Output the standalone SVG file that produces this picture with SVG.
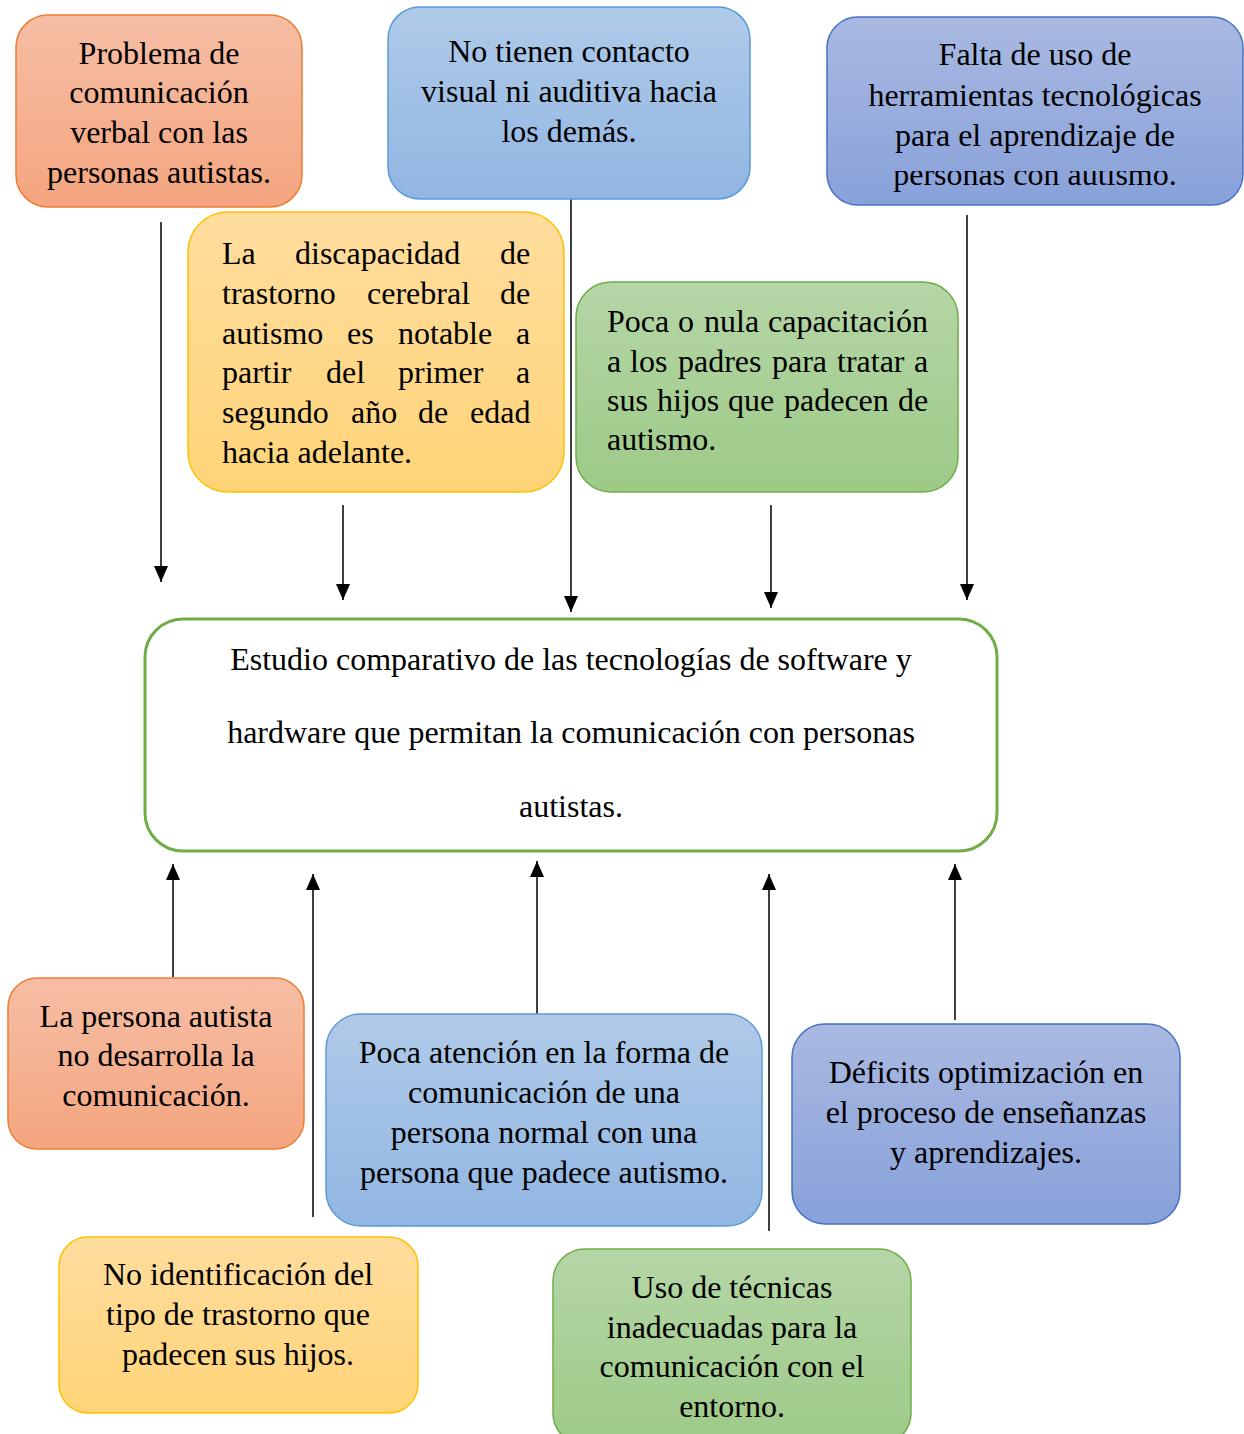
<svg xmlns="http://www.w3.org/2000/svg" width="1244" height="1434" viewBox="0 0 1244 1434">
  <style>
    .t { font-family: "Liberation Serif", "Times New Roman", serif; font-size: 32px; fill: #000; }
    .c { text-anchor: middle; }
    .box { stroke-width: 1.5; }
    .orange { fill: url(#gOrange); stroke: #ED7D31; }
    .blue { fill: url(#gBlue); stroke: #5B9BD5; }
    .indigo { fill: url(#gIndigo); stroke: #4472C4; }
    .yellow { fill: url(#gYellow); stroke: #FFC000; }
    .green { fill: url(#gGreen); stroke: #70AD47; }
    .link { stroke: #000; stroke-width: 1.5; fill: none; marker-end: url(#arrow); }
  </style>
  <defs>
    <linearGradient id="gOrange" x1="0" y1="0" x2="0" y2="1">
      <stop offset="0" stop-color="#F6BEA5"/>
      <stop offset="1" stop-color="#F4A57F"/>
    </linearGradient>
    <linearGradient id="gBlue" x1="0" y1="0" x2="0" y2="1">
      <stop offset="0" stop-color="#B0CAE9"/>
      <stop offset="1" stop-color="#91B6E2"/>
    </linearGradient>
    <linearGradient id="gIndigo" x1="0" y1="0" x2="0" y2="1">
      <stop offset="0" stop-color="#A9B9E1"/>
      <stop offset="1" stop-color="#88A1DA"/>
    </linearGradient>
    <linearGradient id="gYellow" x1="0" y1="0" x2="0" y2="1">
      <stop offset="0" stop-color="#FFDD9E"/>
      <stop offset="1" stop-color="#FFD478"/>
    </linearGradient>
    <linearGradient id="gGreen" x1="0" y1="0" x2="0" y2="1">
      <stop offset="0" stop-color="#B5D6A7"/>
      <stop offset="1" stop-color="#9DCA87"/>
    </linearGradient>
    <marker id="arrow" markerUnits="userSpaceOnUse" markerWidth="16" markerHeight="14" refX="16" refY="7" orient="auto">
      <path d="M0,0 L16,7 L0,14 z" fill="#000"/>
    </marker>
    <!-- the last line of the top-right box is cut along its top edge -->
    <clipPath id="lastLineClip">
      <rect x="827" y="171" width="417" height="40"/>
    </clipPath>
  </defs>

  <!-- connectors -->
  <g id="connectors">
    <line class="link" x1="161" y1="222" x2="161" y2="582"/>
    <line class="link" x1="343" y1="505" x2="343" y2="600"/>
    <line class="link" x1="571" y1="199" x2="571" y2="612"/>
    <line class="link" x1="771" y1="505" x2="771" y2="608"/>
    <line class="link" x1="967" y1="215" x2="967" y2="600"/>
    <line class="link" x1="173" y1="977" x2="173" y2="864"/>
    <line class="link" x1="313" y1="1217" x2="313" y2="874"/>
    <line class="link" x1="537" y1="1018" x2="537" y2="861"/>
    <line class="link" x1="769" y1="1231" x2="769" y2="874"/>
    <line class="link" x1="955" y1="1020" x2="955" y2="864"/>
  </g>

  <!-- top row -->
  <g id="problema-comunicacion">
    <rect class="box orange" x="16" y="15" width="286" height="192" rx="32"/>
    <text class="t c" x="159" y="64">Problema de</text>
    <text class="t c" x="159" y="103">comunicación</text>
    <text class="t c" x="159" y="143">verbal con las</text>
    <text class="t c" x="159" y="183">personas autistas.</text>
  </g>

  <g id="contacto-visual">
    <rect class="box blue" x="388" y="7" width="362" height="192" rx="32"/>
    <text class="t c" x="569" y="62">No tienen contacto</text>
    <text class="t c" x="569" y="102">visual ni auditiva hacia</text>
    <text class="t c" x="569" y="142">los demás.</text>
  </g>

  <g id="herramientas">
    <rect class="box indigo" x="827" y="17" width="416" height="188" rx="31"/>
    <text class="t c" x="1035" y="65">Falta de uso de</text>
    <text class="t c" x="1035" y="106">herramientas tecnológicas</text>
    <text class="t c" x="1035" y="146">para el aprendizaje de</text>
    <text class="t c" x="1035" y="185" clip-path="url(#lastLineClip)">personas con autismo.</text>
  </g>

  <g id="discapacidad">
    <rect class="box yellow" x="188" y="212" width="376" height="280" rx="40"/>
    <text class="t"><tspan x="222" y="264">La</tspan><tspan x="295" y="264">discapacidad</tspan><tspan x="500" y="264">de</tspan></text>
    <text class="t"><tspan x="222" y="304">trastorno</tspan><tspan x="367" y="304">cerebral</tspan><tspan x="500" y="304">de</tspan></text>
    <text class="t"><tspan x="222" y="344">autismo</tspan><tspan x="347" y="344">es</tspan><tspan x="398" y="344">notable</tspan><tspan x="516" y="344">a</tspan></text>
    <text class="t"><tspan x="222" y="383">partir</tspan><tspan x="326" y="383">del</tspan><tspan x="398" y="383">primer</tspan><tspan x="516" y="383">a</tspan></text>
    <text class="t"><tspan x="222" y="423">segundo</tspan><tspan x="351" y="423">año</tspan><tspan x="418" y="423">de</tspan><tspan x="470" y="423">edad</tspan></text>
    <text class="t" x="222" y="463">hacia adelante.</text>
  </g>

  <g id="capacitacion-padres">
    <rect class="box green" x="576" y="282" width="382" height="210" rx="35"/>
    <text class="t"><tspan x="607" y="332">Poca</tspan><tspan x="678" y="332">o</tspan><tspan x="704" y="332">nula</tspan><tspan x="768" y="332">capacitación</tspan></text>
    <text class="t"><tspan x="607" y="372">a</tspan><tspan x="630" y="372">los</tspan><tspan x="678" y="372">padres</tspan><tspan x="772" y="372">para</tspan><tspan x="837" y="372">tratar</tspan><tspan x="914" y="372">a</tspan></text>
    <text class="t"><tspan x="607" y="411">sus</tspan><tspan x="657" y="411">hijos</tspan><tspan x="728" y="411">que</tspan><tspan x="784" y="411">padecen</tspan><tspan x="898" y="411">de</tspan></text>
    <text class="t" x="607" y="450">autismo.</text>
  </g>

  <!-- central topic -->
  <g id="estudio-comparativo">
    <rect x="145" y="619" width="852" height="232" rx="38" fill="#FFFFFF" stroke="#70AD47" stroke-width="3"/>
    <text class="t c" x="571" y="670">Estudio comparativo de las tecnologías de software y</text>
    <text class="t c" x="571" y="743">hardware que permitan la comunicación con personas</text>
    <text class="t c" x="571" y="817">autistas.</text>
  </g>

  <!-- bottom row -->
  <g id="no-desarrolla">
    <rect class="box orange" x="8" y="978" width="296" height="171" rx="29"/>
    <text class="t c" x="156" y="1027">La persona autista</text>
    <text class="t c" x="156" y="1066">no desarrolla la</text>
    <text class="t c" x="156" y="1106">comunicación.</text>
  </g>

  <g id="poca-atencion">
    <rect class="box blue" x="326" y="1014" width="436" height="212" rx="35"/>
    <text class="t c" x="544" y="1063">Poca atención en la forma de</text>
    <text class="t c" x="544" y="1103">comunicación de una</text>
    <text class="t c" x="544" y="1143">persona normal con una</text>
    <text class="t c" x="544" y="1183">persona que padece autismo.</text>
  </g>

  <g id="deficits">
    <rect class="box indigo" x="792" y="1024" width="388" height="200" rx="33"/>
    <text class="t c" x="986" y="1083">Déficits optimización en</text>
    <text class="t c" x="986" y="1123">el proceso de enseñanzas</text>
    <text class="t c" x="986" y="1163">y aprendizajes.</text>
  </g>

  <g id="no-identificacion">
    <rect class="box yellow" x="59" y="1237" width="359" height="176" rx="29"/>
    <text class="t c" x="238" y="1285">No identificación del</text>
    <text class="t c" x="238" y="1325">tipo de trastorno que</text>
    <text class="t c" x="238" y="1365">padecen sus hijos.</text>
  </g>

  <g id="tecnicas-inadecuadas">
    <rect class="box green" x="553" y="1249" width="358" height="196" rx="32"/>
    <text class="t c" x="732" y="1298">Uso de técnicas</text>
    <text class="t c" x="732" y="1338">inadecuadas para la</text>
    <text class="t c" x="732" y="1377">comunicación con el</text>
    <text class="t c" x="732" y="1417">entorno.</text>
  </g>
</svg>
